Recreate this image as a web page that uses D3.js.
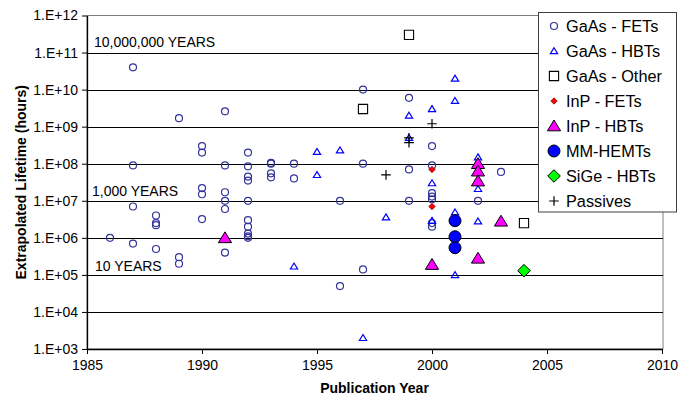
<!DOCTYPE html>
<html><head><meta charset="utf-8">
<script src="https://cdn.jsdelivr.net/npm/d3@7"></script>
<style>
body{margin:0;background:#fff;}
text{font-family:"Liberation Sans",Arial,sans-serif;}
</style></head>
<body><svg id="c" width="678" height="398"></svg>
<script>
// ---- data ----
const gaasFetYears  = [1986,1987,1987,1987,1987,1988,1988,1988,1988,1989,1989,1989,1990,1990,1990,1990,1990,1991,1991,1991,1991,1991,1991,1992,1992,1992,1992,1992,1992,1992,1992,1992,1992,1993,1993,1993,1993,1994,1994,1996,1996,1997,1997,1997,1999,1999,1999,2000,2000,2000,2000,2000,2000,2000,2002,2003];
const gaasFetValues = [1e6,4e10,9e7,7e6,7e5,4e6,2.5e6,2.2e6,5e5,1.7e9,3e5,2e5,3e8,2e8,2.2e7,1.5e7,3.2e6,2.6e9,9e7,1.7e7,1e7,6e6,4e5,2e8,8.5e7,4.5e7,3.5e7,1e7,3e6,2e6,1.3e6,1.1e6,1e6,1e8,1.05e8,5.5e7,4.3e7,1e8,4e7,1e7,5e4,1e10,1e8,1.4e5,6e9,7e7,1e7,3e8,9e7,1.6e7,1.3e7,1.1e7,2.5e6,2e6,1e7,6e7];
const gaasHbtYears  = [1994,1995,1995,1996,1997,1998,1999,1999,2000,2000,2000,2001,2001,2001,2001,2002,2002,2002];
const gaasHbtValues = [1.7e5,2.1e8,5e7,2.3e8,2e3,3.6e6,2e9,5e8,3e9,3e7,2.9e6,2e10,5e9,4.9e6,1e5,1.5e8,2.1e7,2.8e6];
const gaasOtherYears  = [1997,1999,2004];
const gaasOtherValues = [3e9,3e11,2.5e6];
const inpFetYears  = [2000,2000];
const inpFetValues = [7e7,7e6];
const inpHbtYears  = [1991,2000,2002,2002,2002,2002,2003];
const inpHbtValues = [1e6,1.9e5,1e8,6.3e7,3.4e7,2.8e5,2.8e6];
const mmHemtYears  = [2001,2001,2001];
const mmHemtValues = [2.9e6,1.07e6,5.4e5];
const sigeHbtYears  = [2004];
const sigeHbtValues = [1.3e5];
const passiveYears  = [1998,1999,1999,2000];
const passiveValues = [5e7,5e8,3.7e8,1.2e9];

const seriesNames = ["GaAs - FETs","GaAs - HBTs","GaAs - Other","InP - FETs","InP - HBTs","MM-HEMTs","SiGe - HBTs","Passives"];
const xTicks = [1985,1990,1995,2000,2005,2010];
const yTicks = [1e3,1e4,1e5,1e6,1e7,1e8,1e9,1e10,1e11,1e12];
const annotations = [["10,000,000 YEARS",1e11],["1,000 YEARS",1e7],["10 YEARS",1e5]];

// ---- chart ----
const svg = d3.select("#c");
const L=87, R=662, T=15.5, B=349;
const x = d3.scaleLinear().domain([1985,2010]).range([L,R]);
const y = d3.scaleLog().domain([1e3,1e12]).range([B,T]);

// plot border (gray)
svg.append("rect").attr("x",L).attr("y",T).attr("width",R-L+1).attr("height",B-T)
  .attr("fill","none").attr("stroke","#808080").attr("stroke-width",1);

// gridlines
svg.append("g").selectAll("line").data(yTicks.filter(v=>v>1e3 && v<1e12)).join("line")
  .attr("x1",L).attr("x2",R+1).attr("y1",d=>Math.round(y(d))+0.5).attr("y2",d=>Math.round(y(d))+0.5)
  .attr("stroke","#000").attr("stroke-width",1);

// annotations
const annDy = [-5.5,-4.5,-3.5];
svg.append("g").selectAll("text").data(annotations).join("text")
  .attr("x",(d,i)=>x(1985)+[7,5,8][i]).attr("y",(d,i)=>y(d[1])+annDy[i])
  .attr("font-size",14).attr("fill","#000").text(d=>d[0]);

// axes
const fmt = d => "1.E+" + String(Math.round(Math.log10(d))).padStart(2,"0");
const ya = svg.append("g").attr("transform",`translate(${L},0)`)
  .call(d3.axisLeft(y).tickValues(yTicks).tickFormat(fmt).tickSizeInner(5).tickSizeOuter(0).tickPadding(4));
const xa = svg.append("g").attr("transform",`translate(0,${B})`)
  .call(d3.axisBottom(x).tickValues(xTicks).tickFormat(d3.format("d")).tickSizeInner(5).tickSizeOuter(0).tickPadding(6));
[ya,xa].forEach(a=>{
  a.selectAll("text").attr("font-size",14).attr("fill","#000").attr("font-family","Liberation Sans, Arial, sans-serif");
  a.selectAll("line").attr("stroke","#000");
  a.select(".domain").attr("stroke","#000").attr("stroke-width",1.3);
});

svg.append("text").attr("x",(L+R)/2).attr("y",393).attr("text-anchor","middle")
  .attr("font-size",14).attr("font-weight","bold").text("Publication Year");
svg.append("text").attr("transform",`translate(26,${(T+B)/2}) rotate(-90)`).attr("text-anchor","middle")
  .attr("font-size",14).attr("font-weight","bold").text("Extrapolated Lifetime (hours)");

// marker shapes
const shapes = {
  circle:(s)=>{const r=s;return `M${-r},0A${r},${r} 0 1,0 ${r},0A${r},${r} 0 1,0 ${-r},0Z`;},
  tri:(s)=>`M0,${-s}L${s*1.1},${s*0.8}L${-s*1.1},${s*0.8}Z`,
  square:(s)=>`M${-s},${-s}H${s}V${s}H${-s}Z`,
  diamond:(s)=>`M0,${-s}L${s},0L0,${s}L${-s},0Z`,
  plus:(s)=>`M${-s},0H${s}M0,${-s}V${s}`
};
const styles = [
  {shape:"circle",size:3.5,fill:"none",stroke:"#333399",sw:1.2},
  {shape:"tri",size:3.3,fill:"none",stroke:"#0000FF",sw:1.2},
  {shape:"square",size:4.6,fill:"none",stroke:"#000",sw:1.1},
  {shape:"diamond",size:3.2,fill:"#FF0000",stroke:"#660000",sw:0.7},
  {shape:"tri",size:6,fill:"#FF00FF",stroke:"#000",sw:1},
  {shape:"circle",size:6,fill:"#0000FF",stroke:"#000",sw:1},
  {shape:"diamond",size:6.3,fill:"#00FF00",stroke:"#000",sw:1},
  {shape:"plus",size:4.8,fill:"none",stroke:"#000",sw:1.2}
];
const seriesData = [
  [gaasFetYears,gaasFetValues],[gaasHbtYears,gaasHbtValues],[gaasOtherYears,gaasOtherValues],
  [inpFetYears,inpFetValues],[inpHbtYears,inpHbtValues],[mmHemtYears,mmHemtValues],
  [sigeHbtYears,sigeHbtValues],[passiveYears,passiveValues]
];
seriesData.forEach(([ys,vs],i)=>{
  const st=styles[i];
  svg.append("g").selectAll("path").data(ys.map((yr,j)=>[yr,vs[j]])).join("path")
    .attr("transform",d=>`translate(${x(d[0])},${y(d[1])})`)
    .attr("d",shapes[st.shape](st.size)).attr("fill",st.fill).attr("stroke",st.stroke).attr("stroke-width",st.sw);
});

// legend
const lg = svg.append("g");
lg.append("rect").attr("x",538.5).attr("y",12.5).attr("width",138).attr("height",199.5)
  .attr("fill","#fff").attr("stroke","#404040").attr("stroke-width",1);
const ly = d3.scalePoint().domain(seriesNames).range([26,201]);
seriesNames.forEach((n,i)=>{
  const st=styles[i];
  lg.append("path").attr("transform",`translate(554,${ly(n)})`).attr("d",shapes[st.shape](st.size))
    .attr("fill",st.fill).attr("stroke",st.stroke).attr("stroke-width",st.sw);
  lg.append("text").attr("x",566).attr("y",ly(n)+5.5).attr("font-size",16.3).attr("fill","#000").text(n);
});
</script></body></html>
